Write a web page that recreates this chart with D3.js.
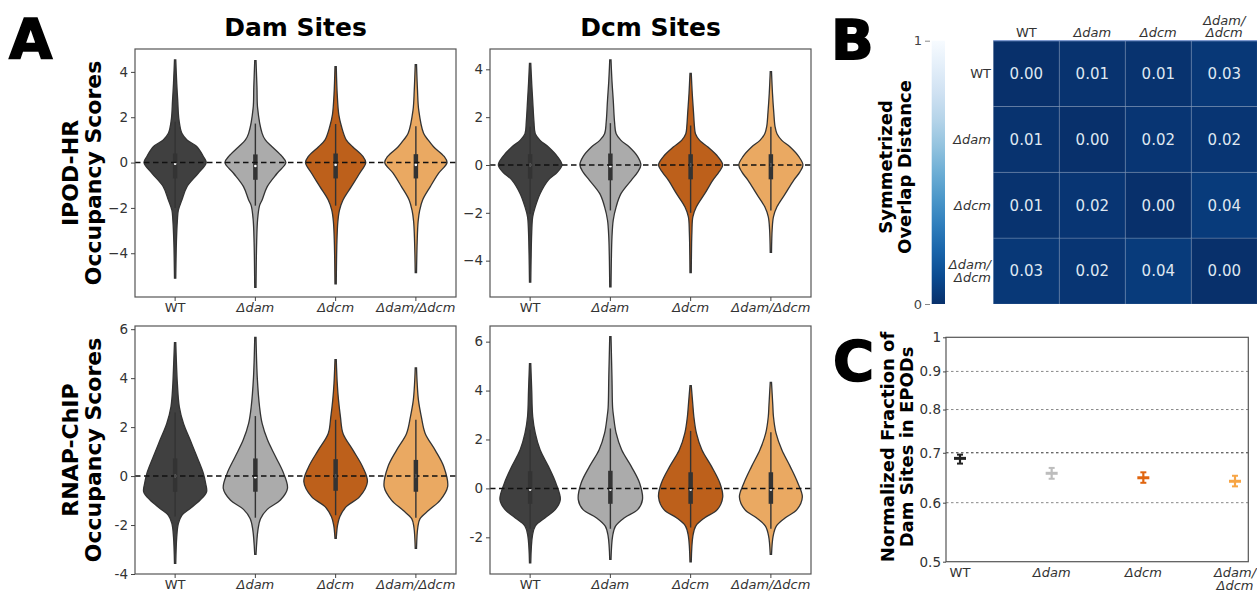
<!DOCTYPE html>
<html>
<head>
<meta charset="utf-8">
<script src="https://cdn.jsdelivr.net/npm/d3@7"></script>
<style>
  body { margin: 0; background: #fff; }
  text { font-family: "DejaVu Sans", sans-serif; }
</style>
</head>
<body>
<svg id="fig" width="1257" height="592"></svg>
<script>
// categories (strains)
const strains = ["WT", "Δdam", "Δdcm", "Δdam/Δdcm"];
const violinColors = ["#404040", "#ababab", "#bd601b", "#eaa962"];

// violin outlines: [score, relative density]
const ipodDam = [
    [[4.53,0.02],[3.5,0.05],[2.76,0.08],[1.88,0.12],[1.29,0.21],[1.0,0.37],[0.7,0.68],[0.27,0.88],[0,0.97],[-0.47,0.72],[-1.06,0.37],[-1.65,0.21],[-2.1,0.1],[-2.55,0.07],[-3.5,0.04],[-5.1,0.02]],
    [[4.5,0.02],[3.3,0.05],[2.4,0.07],[1.29,0.21],[1.0,0.31],[0.7,0.52],[0.27,0.83],[0,0.95],[-0.47,0.68],[-1.06,0.37],[-1.65,0.21],[-1.9,0.13],[-2.5,0.07],[-3.5,0.04],[-5.5,0.02]],
    [[4.23,0.02],[3.0,0.05],[2.1,0.1],[1.6,0.18],[1.0,0.33],[0.7,0.53],[0.27,0.85],[0,0.94],[-0.47,0.75],[-1.06,0.49],[-1.65,0.23],[-2.1,0.12],[-2.6,0.07],[-3.5,0.04],[-5.35,0.02]],
    [[4.32,0.02],[3.2,0.05],[2.3,0.09],[1.29,0.24],[1.0,0.38],[0.7,0.55],[0.27,0.88],[0,0.97],[-0.47,0.71],[-1.06,0.45],[-1.65,0.21],[-2.1,0.12],[-2.6,0.07],[-3.5,0.04],[-4.85,0.02]]
];
const ipodDcm = [
    [[4.25,0.02],[3.4,0.05],[2.7,0.08],[1.8,0.12],[1.31,0.16],[1.03,0.31],[0.75,0.57],[0.35,0.85],[0,0.99],[-0.3,0.85],[-0.64,0.56],[-1.2,0.31],[-1.75,0.16],[-2.17,0.08],[-2.8,0.05],[-4.9,0.02]],
    [[4.39,0.02],[3.5,0.05],[2.7,0.09],[1.8,0.13],[1.31,0.18],[1.03,0.33],[0.75,0.59],[0.35,0.85],[0,0.95],[-0.3,0.85],[-0.64,0.65],[-1.2,0.33],[-1.75,0.18],[-2.3,0.09],[-3.0,0.05],[-5.1,0.02]],
    [[3.83,0.02],[3.0,0.05],[2.2,0.09],[1.6,0.12],[1.31,0.15],[1.03,0.28],[0.75,0.54],[0.35,0.85],[0,1.0],[-0.3,0.88],[-0.64,0.69],[-1.2,0.44],[-1.75,0.18],[-2.17,0.07],[-2.8,0.04],[-4.5,0.02]],
    [[3.9,0.02],[3.0,0.05],[2.2,0.09],[1.6,0.13],[1.31,0.19],[1.03,0.34],[0.75,0.6],[0.35,0.87],[0,1.0],[-0.3,0.9],[-0.64,0.71],[-1.2,0.45],[-1.75,0.19],[-2.17,0.08],[-2.7,0.04],[-3.65,0.02]]
];
const rnapDam = [
    [[5.45,0.02],[3.78,0.07],[2.83,0.13],[2.15,0.26],[1.47,0.47],[0.79,0.68],[0.11,0.88],[-0.3,0.95],[-0.64,0.98],[-0.98,0.78],[-1.32,0.47],[-1.6,0.21],[-1.94,0.1],[-2.5,0.05],[-3.57,0.02]],
    [[5.66,0.02],[4.0,0.06],[2.83,0.13],[2.15,0.21],[1.47,0.38],[0.79,0.63],[0.11,0.88],[-0.5,1.0],[-0.98,0.78],[-1.36,0.37],[-1.74,0.16],[-2.2,0.08],[-3.2,0.02]],
    [[4.76,0.02],[3.8,0.05],[3.1,0.09],[2.42,0.15],[1.74,0.23],[1.06,0.54],[0.38,0.84],[-0.23,0.99],[-0.84,0.75],[-1.25,0.33],[-1.66,0.13],[-2.0,0.06],[-2.54,0.02]],
    [[4.42,0.02],[3.8,0.04],[3.1,0.08],[2.42,0.17],[1.74,0.29],[1.06,0.6],[0.38,0.87],[-0.43,0.99],[-0.98,0.76],[-1.4,0.4],[-1.74,0.13],[-2.1,0.06],[-2.95,0.02]]
];
const rnapDcm = [
    [[5.1,0.02],[4.0,0.05],[2.94,0.08],[2.26,0.16],[1.58,0.31],[0.9,0.57],[0.22,0.8],[-0.46,0.94],[-0.87,0.78],[-1.2,0.47],[-1.54,0.16],[-1.95,0.07],[-3.04,0.02]],
    [[6.2,0.02],[4.5,0.05],[3.3,0.07],[2.94,0.1],[2.26,0.18],[1.58,0.35],[0.9,0.65],[0.22,0.91],[-0.46,1.0],[-0.87,0.85],[-1.2,0.44],[-1.54,0.16],[-1.95,0.07],[-2.9,0.02]],
    [[4.2,0.02],[3.4,0.07],[2.94,0.1],[2.26,0.18],[1.58,0.35],[0.9,0.65],[0.22,0.91],[-0.35,1.0],[-0.87,0.83],[-1.2,0.44],[-1.54,0.16],[-1.95,0.07],[-3.0,0.02]],
    [[4.33,0.02],[3.4,0.06],[2.94,0.08],[2.26,0.16],[1.58,0.34],[0.9,0.6],[0.22,0.84],[-0.35,0.98],[-0.87,0.81],[-1.2,0.45],[-1.54,0.17],[-1.95,0.07],[-2.7,0.02]]
];

// inner boxes: [whisker low, q1, median, q3, whisker high]
const ipodDamBox = [[-2.0,-0.7,-0.05,0.4,1.8],[-1.9,-0.76,-0.15,0.36,1.72],[-1.9,-0.7,-0.1,0.4,1.7],[-1.9,-0.7,-0.1,0.37,1.6]];
const ipodDcmBox = [[-2.05,-0.57,0,0.45,1.6],[-1.9,-0.64,-0.05,0.48,1.75],[-2.0,-0.6,0,0.45,1.65],[-1.9,-0.6,0,0.45,1.6]];
const rnapDamBox = [[-1.65,-0.64,0,0.72,2.6],[-1.7,-0.64,-0.05,0.72,2.45],[-1.6,-0.6,0,0.69,2.3],[-1.7,-0.64,0,0.66,2.3]];
const rnapDcmBox = [[-1.65,-0.63,-0.05,0.7,2.4],[-1.65,-0.63,-0.05,0.72,2.45],[-1.6,-0.63,-0.05,0.66,2.35],[-1.65,-0.63,-0.05,0.66,2.3]];

// panel B: symmetrized overlap distance
const overlap = [
    [0.00, 0.01, 0.01, 0.03],
    [0.01, 0.00, 0.02, 0.02],
    [0.01, 0.02, 0.00, 0.04],
    [0.03, 0.02, 0.04, 0.00]
];

// panel C: normalized fraction of dam sites in EPODs
const fracMean = [0.688, 0.657, 0.648, 0.641];
const fracLow = [0.677, 0.646, 0.638, 0.631];
const fracHigh = [0.696, 0.668, 0.659, 0.652];
const fracColors = ["#222222", "#bdbdbd", "#e0650f", "#f7a545"];
const fracTicks = [0.5, 0.6, 0.7, 0.8, 0.9, 1];

const svg = d3.select("#fig");
svg.append("rect").attr("width", 1257).attr("height", 592).attr("fill", "#fff");

function styleAxis(g, size) {
    g.select(".domain").remove();
    g.selectAll(".tick line").attr("stroke", "#444");
    g.selectAll(".tick text")
        .attr("fill", "#333")
        .style("font-size", (size || 13.5) + "px")
        .style("font-family", "DejaVu Sans");
}

function italicStrain(sel) {
    sel.style("font-style", d => d === "WT" ? "normal" : "italic");
}

function violinPanel(opt) {
    const x = d3.scaleBand().domain(strains).range(opt.xr);
    const y = d3.scaleLinear().domain(opt.domain).range(opt.yr);
    const w = d3.scaleLinear().domain([0, 1]).range([0, x.bandwidth() * 0.4]);
    const g = svg.append("g");

    opt.data.forEach((pts, i) => {
        const cx = x(strains[i]) + x.bandwidth() / 2;
        const area = d3.area()
            .y(d => y(d[0]))
            .x0(d => cx - w(d[1]))
            .x1(d => cx + w(d[1]))
            .curve(d3.curveCatmullRom.alpha(0.5));
        g.append("path")
            .attr("d", area(pts))
            .attr("fill", violinColors[i])
            .attr("stroke", "#333")
            .attr("stroke-width", 1.3);

        const b = opt.box[i];
        g.append("line")
            .attr("x1", cx).attr("x2", cx)
            .attr("y1", y(b[0])).attr("y2", y(b[4]))
            .attr("stroke", "#333").attr("stroke-width", 1.4);
        g.append("line")
            .attr("x1", cx).attr("x2", cx)
            .attr("y1", y(b[1])).attr("y2", y(b[3]))
            .attr("stroke", "#333").attr("stroke-width", 4.5);
        g.append("circle")
            .attr("cx", cx).attr("cy", y(b[2]))
            .attr("r", 1.3).attr("fill", "#fff");
    });

    g.append("line")
        .attr("x1", opt.xr[0]).attr("x2", opt.xr[1])
        .attr("y1", y(0)).attr("y2", y(0))
        .attr("stroke", "#111").attr("stroke-width", 1.5)
        .attr("stroke-dasharray", "5.5,3.5");

    g.append("rect")
        .attr("x", opt.xr[0]).attr("y", opt.yr[1])
        .attr("width", opt.xr[1] - opt.xr[0]).attr("height", opt.yr[0] - opt.yr[1])
        .attr("fill", "none").attr("stroke", "#555").attr("stroke-width", 1.2);

    const ya = g.append("g")
        .attr("transform", `translate(${opt.xr[0]},0)`)
        .call(d3.axisLeft(y).tickValues(opt.ticks).tickSize(4).tickPadding(3)
            .tickFormat(d => (d < 0 ? opt.minus + Math.abs(d) : d)));
    styleAxis(ya);

    const xa = g.append("g")
        .attr("transform", `translate(0,${opt.yr[0]})`)
        .call(d3.axisBottom(x).tickSize(4).tickPadding(2));
    styleAxis(xa, 13);
    xa.selectAll(".tick text").call(italicStrain);
}

violinPanel({ data: ipodDam, box: ipodDamBox, xr: [135, 456], yr: [297, 49], domain: [-5.93, 5.01], ticks: [-4, -2, 0, 2, 4], minus: "−" });
violinPanel({ data: ipodDcm, box: ipodDcmBox, xr: [490, 811], yr: [297, 49], domain: [-5.52, 4.85], ticks: [-4, -2, 0, 2, 4], minus: "−" });
violinPanel({ data: rnapDam, box: rnapDamBox, xr: [135, 456], yr: [574, 326], domain: [-4.0, 6.13], ticks: [-4, -2, 0, 2, 4, 6], minus: "-" });
violinPanel({ data: rnapDcm, box: rnapDcmBox, xr: [490, 811], yr: [574, 326], domain: [-3.5, 6.64], ticks: [-2, 0, 2, 4, 6], minus: "-" });

// titles and row labels
function bold(txt, x, y, size, rot) {
    const t = svg.append("text")
        .attr("text-anchor", "middle")
        .style("font-weight", "bold")
        .style("font-size", size + "px")
        .attr("fill", "#000");
    if (rot) t.attr("transform", `translate(${x},${y}) rotate(-90)`);
    else t.attr("x", x).attr("y", y);
    const lines = txt.split("\n");
    lines.forEach((l, i) => {
        t.append("tspan")
            .attr("x", rot ? 0 : x)
            .attr("dy", i === 0 ? (-(lines.length - 1) * 0.5 * 1.05 + 0.35) + "em" : "1.05em")
            .text(l);
    });
    return t;
}

bold("Dam Sites", 295.5, 27, 25);
bold("Dcm Sites", 650.5, 27, 25);
bold("IPOD-HR\nOccupancy Scores", 82, 173, 22, true);
bold("RNAP-ChIP\nOccupancy Scores", 82, 450, 22, true);

function letter(ch, x, y) {
    svg.append("text").attr("x", x).attr("y", y)
        .style("font-size", "56px").style("font-weight", "bold")
        .attr("fill", "#000").attr("stroke", "#000").attr("stroke-width", 1.6)
        .text(ch);
}
letter("A", 9, 58);
letter("B", 831, 59);
letter("C", 833, 380);

// ---- panel B heatmap
const hx = d3.scaleBand().domain(strains).range([993.3, 1257.3]);
const hy = d3.scaleBand().domain(strains).range([40.7, 304]);
const blues = d3.scaleSequential(t => d3.interpolateBlues(1 - t)).domain([0, 1]);
const hb = svg.append("g");

overlap.forEach((row, r) => {
    row.forEach((v, c) => {
        hb.append("rect")
            .attr("x", hx(strains[c])).attr("y", hy(strains[r]))
            .attr("width", hx.bandwidth()).attr("height", hy.bandwidth())
            .attr("fill", blues(v))
            .attr("stroke", "rgba(255,255,255,0.12)").attr("stroke-width", 1);
        hb.append("text")
            .attr("x", hx(strains[c]) + hx.bandwidth() / 2)
            .attr("y", hy(strains[r]) + hy.bandwidth() / 2)
            .attr("dy", "0.36em")
            .attr("text-anchor", "middle")
            .attr("fill", "#dfe7f1")
            .style("font-size", "15px")
            .text(d3.format(".2f")(v));
    });
});
hb.append("line").attr("x1", 993.3).attr("x2", 1257).attr("y1", 40.7).attr("y2", 40.7)
    .attr("stroke", "#7f9ad0").attr("stroke-width", 1.2);

function strainLines(s) {
    return s === "Δdam/Δdcm" ? ["Δdam/", "Δdcm"] : [s];
}

strains.forEach(s => {
    const lines = strainLines(s);
    const t = hb.append("text")
        .attr("text-anchor", "middle")
        .attr("fill", "#333")
        .style("font-size", "13px")
        .style("font-style", s === "WT" ? "normal" : "italic");
    lines.forEach((l, i) => {
        t.append("tspan")
            .attr("x", hx(s) + hx.bandwidth() / 2)
            .attr("y", 37 - (lines.length - 1 - i) * 12.5)
            .text(l);
    });
    const r = hb.append("text")
        .attr("text-anchor", "end")
        .attr("fill", "#333")
        .style("font-size", "13px")
        .style("font-style", s === "WT" ? "normal" : "italic");
    lines.forEach((l, i) => {
        r.append("tspan")
            .attr("x", 991)
            .attr("y", hy(s) + hy.bandwidth() / 2 + 4.5 + (i - (lines.length - 1) / 2) * 13)
            .text(l);
    });
});

// colorbar
const defs = svg.append("defs");
const grad = defs.append("linearGradient").attr("id", "cbar")
    .attr("x1", 0).attr("y1", 1).attr("x2", 0).attr("y2", 0);
d3.range(0, 1.0001, 0.1).forEach(t => {
    grad.append("stop").attr("offset", t).attr("stop-color", blues(t));
});
const cy = d3.scaleLinear().domain([0, 1]).range([304, 40.7]);
svg.append("rect").attr("x", 931.7).attr("y", 40.7).attr("width", 13.3).attr("height", 263.3)
    .attr("fill", "url(#cbar)");
const ca = svg.append("g").attr("transform", "translate(930,0)")
    .call(d3.axisLeft(cy).tickValues([0, 1]).tickFormat(d3.format("d")).tickSize(5).tickPadding(3));
styleAxis(ca, 13);
ca.selectAll(".tick text").attr("fill", "#444");
ca.selectAll(".tick line").attr("stroke", "#888");
bold("Symmetrized\nOverlap Distance", 895, 167, 18, true);

// ---- panel C
const px = d3.scalePoint().domain(strains).range([960, 1235]);
const py = d3.scaleLog().domain([0.5, 1]).range([561.7, 337.3]);
const gc = svg.append("g");

fracTicks.filter(d => d > 0.5 && d < 1).forEach(d => {
    gc.append("line")
        .attr("x1", 946).attr("x2", 1248.3)
        .attr("y1", py(d)).attr("y2", py(d))
        .attr("stroke", d === 0.7 ? "#333" : "#888")
        .attr("stroke-width", 1)
        .attr("stroke-dasharray", "2.5,2.5");
});
gc.append("rect").attr("x", 946).attr("y", 337.3).attr("width", 302.3).attr("height", 224.4)
    .attr("fill", "none").attr("stroke", "#555").attr("stroke-width", 1.2);

strains.forEach((s, i) => {
    const cx = px(s);
    gc.append("line").attr("x1", cx).attr("x2", cx)
        .attr("y1", py(fracLow[i])).attr("y2", py(fracHigh[i]))
        .attr("stroke", fracColors[i]).attr("stroke-width", 2.2);
    [fracLow[i], fracHigh[i]].forEach(v => {
        gc.append("line").attr("x1", cx - 3).attr("x2", cx + 3)
            .attr("y1", py(v)).attr("y2", py(v))
            .attr("stroke", fracColors[i]).attr("stroke-width", 2);
    });
    gc.append("line").attr("x1", cx - 6).attr("x2", cx + 6)
        .attr("y1", py(fracMean[i])).attr("y2", py(fracMean[i]))
        .attr("stroke", fracColors[i]).attr("stroke-width", 3);
});

const cya = gc.append("g").attr("transform", "translate(946,0)")
    .call(d3.axisLeft(py).tickValues(fracTicks).tickFormat(d => d === 1 ? "1" : d3.format(".1f")(d))
        .tickSize(3).tickPadding(2));
styleAxis(cya, 13.5);

strains.forEach(s => {
    const lines = strainLines(s);
    const t = gc.append("text")
        .attr("text-anchor", "middle")
        .attr("fill", "#333")
        .style("font-size", "13px")
        .style("font-style", s === "WT" ? "normal" : "italic");
    lines.forEach((l, i) => {
        t.append("tspan").attr("x", px(s)).attr("y", 577 + i * 12.5).text(l);
    });
});
bold("Normalized Fraction of\nDam Sites in EPODs", 897, 447, 18, true);
</script>
</body>
</html>
